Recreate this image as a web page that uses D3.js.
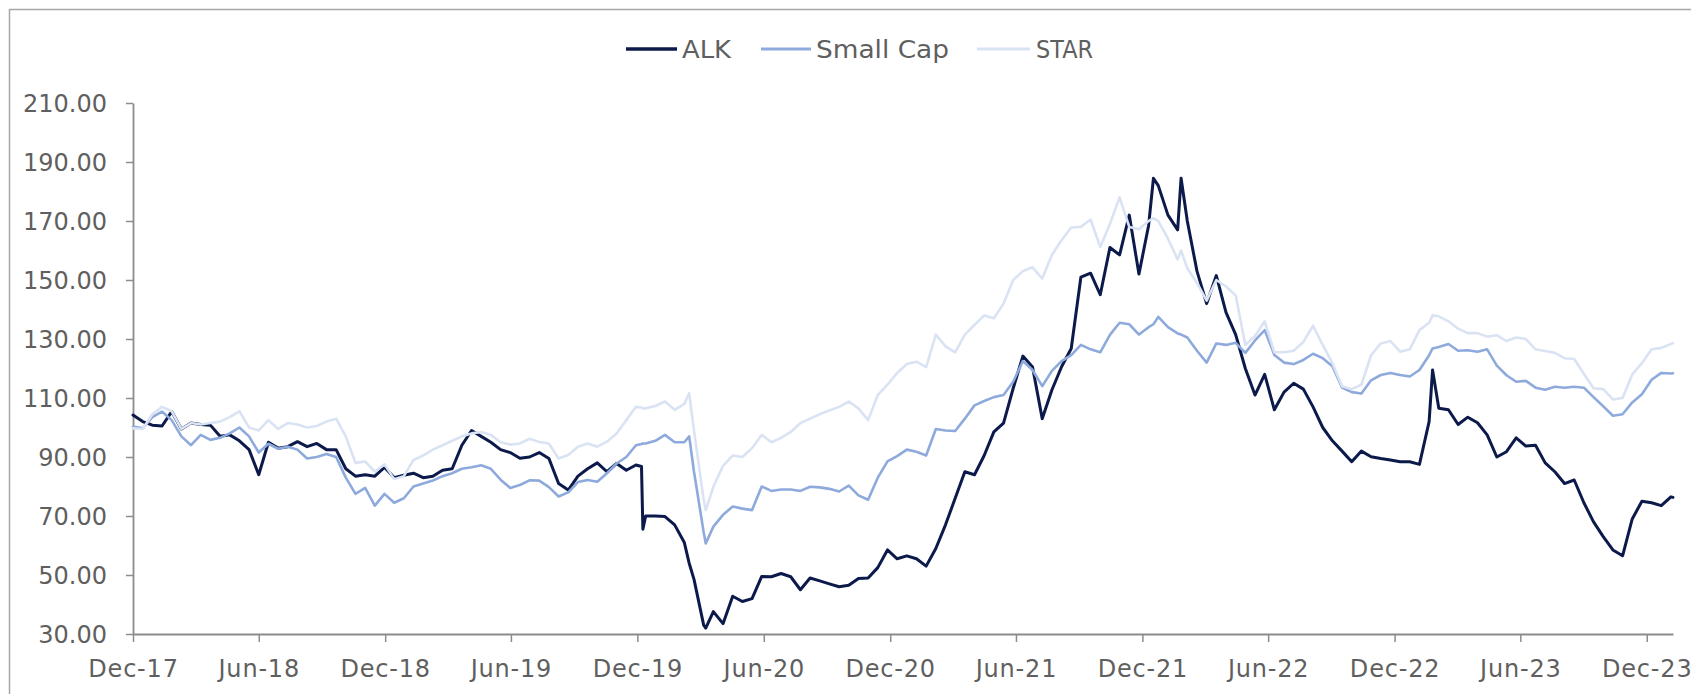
<!DOCTYPE html>
<html>
<head>
<meta charset="utf-8">
<script src="https://cdn.jsdelivr.net/npm/d3@7"></script>
<style>
  html, body { margin: 0; padding: 0; background: #ffffff; }
  svg { display: block; }
  text { font-family: "DejaVu Sans", sans-serif; }
</style>
</head>
<body>
<svg id="chart" width="1691" height="694"></svg>
<script>
// ---------------- data ----------------
const dates = [
  "2017-12-15","2017-12-29","2018-01-12","2018-01-26","2018-02-09","2018-02-23","2018-03-09","2018-03-23",
  "2018-04-06","2018-04-20","2018-05-04","2018-05-18","2018-06-01","2018-06-15","2018-06-29","2018-07-13",
  "2018-07-27","2018-08-10","2018-08-24","2018-09-07","2018-09-21","2018-10-05","2018-10-19","2018-11-02",
  "2018-11-16","2018-11-30","2018-12-14","2018-12-28","2019-01-11","2019-01-25","2019-02-08","2019-02-22",
  "2019-03-08","2019-03-22","2019-04-05","2019-04-19","2019-05-03","2019-05-17","2019-05-31","2019-06-14",
  "2019-06-28","2019-07-12","2019-07-26","2019-08-09","2019-08-23","2019-09-06","2019-09-20","2019-10-04",
  "2019-10-18","2019-11-01","2019-11-15","2019-11-29","2019-12-13","2019-12-21","2019-12-23","2019-12-27",
  "2020-01-10","2020-01-24","2020-02-07","2020-02-21","2020-02-28","2020-03-06","2020-03-20","2020-03-23",
  "2020-04-03","2020-04-17","2020-05-01","2020-05-15","2020-05-29","2020-06-12","2020-06-26","2020-07-10",
  "2020-07-24","2020-08-07","2020-08-21","2020-09-04","2020-09-18","2020-10-02","2020-10-16","2020-10-30",
  "2020-11-13","2020-11-27","2020-12-11","2020-12-25","2021-01-08","2021-01-22","2021-02-05","2021-02-19",
  "2021-03-05","2021-03-19","2021-04-02","2021-04-16","2021-04-30","2021-05-14","2021-05-28","2021-06-11",
  "2021-06-25","2021-07-09","2021-07-23","2021-08-06","2021-08-20","2021-09-03","2021-09-17","2021-10-01",
  "2021-10-15","2021-10-29","2021-11-12","2021-11-26","2021-12-10","2021-12-24","2021-12-31","2022-01-07",
  "2022-01-21","2022-02-04","2022-02-09","2022-02-18","2022-03-04","2022-03-18","2022-04-01","2022-04-15",
  "2022-04-29","2022-05-13","2022-05-27","2022-06-10","2022-06-24","2022-07-08","2022-07-22","2022-08-05",
  "2022-08-19","2022-09-02","2022-09-16","2022-09-30","2022-10-14","2022-10-28","2022-11-11","2022-11-25",
  "2022-12-09","2022-12-23","2023-01-06","2023-01-20","2023-02-03","2023-02-08","2023-02-17","2023-03-03",
  "2023-03-17","2023-03-31","2023-04-14","2023-04-28","2023-05-12","2023-05-26","2023-06-09","2023-06-23",
  "2023-07-07","2023-07-21","2023-08-04","2023-08-18","2023-09-01","2023-09-15","2023-09-29","2023-10-13",
  "2023-10-27","2023-11-10","2023-11-24","2023-12-08","2023-12-22","2024-01-05","2024-01-19","2024-01-22"
];

const alk = [
  104.2,102,100.8,100.5,105.4,99.5,101.5,101,
  100.8,97,97.5,95.5,92.5,84,95,93,
  93.5,95.2,93.5,94.6,92.5,92.5,86,83.5,
  84,83.5,86.5,83,83.8,84.5,83,83.5,
  85.5,86,94,99,97,95,92.5,91.5,
  89.6,90,91.5,89.5,81,78.8,83.5,86,
  88,85,87.8,85.5,87.3,86.8,65.5,70,
  70,69.8,67,61,54,48.5,33,32,
  37.6,33.5,42.8,41,42,49.5,49.4,50.5,
  49.4,45,49,48,47,46,46.5,48.8,
  49,52.5,58.5,55.5,56.5,55.5,53,59,
  67,76,85,84,90.5,98.5,101.5,113.3,
  124.2,120.5,103,112.7,120.6,126.8,151,152.3,
  145,161,158.5,172,152,168.5,184.5,182,
  172,167,184.5,170,153,142,151.5,139,
  131.5,120,111,118,106,112,115,113,
  107,100,95.5,92,88.4,92,90.1,89.5,
  89,88.4,88.4,87.5,102,119.5,106.5,106,
  101,103.5,101.6,97.5,90,91.8,96.5,93.7,
  94,88,85,81,82.2,74.5,68,63,
  58.5,56.5,69,75,74.5,73.5,76.5,76.3
];

const smallCap = [
  100.3,99.7,103.5,105.4,102.5,97,94,97.5,
  95.8,96.5,98,100,97,91.5,94.5,92.8,
  93.5,92.5,89.5,90,91,90,83,77.5,
  79.5,73.5,77.5,74.5,76,80,81,82,
  83.5,84.5,86,86.5,87.2,86,82.3,79.5,
  80.5,82.1,82,79.8,76.6,78,81.5,82.2,
  81.6,84.5,87.8,90,94,94.4,94.6,94.6,
  95.5,97.5,95,95,97,85,64.5,60.7,
  66.4,70.4,73.2,72.5,72,80,78.5,79,
  79,78.5,79.9,79.7,79.2,78.3,80.3,77,
  75.5,83,88.5,90.3,92.5,91.8,90.5,99.5,
  99,98.8,103,107.5,109,110.3,111,115.5,
  122.5,119.5,114,119.2,122.5,124.5,128,126.5,
  125.5,131.4,135.5,135,131.5,134,135,137.5,
  134,131.9,131.5,130.5,126,122,128.5,128,
  128.7,125.3,129.5,133,124.6,122,121.5,122.9,
  125,123.5,120.8,113.5,112,111.5,116,117.8,
  118.5,117.8,117.3,119.5,124.5,126.8,127.3,128.3,
  126,126.2,125.7,126.5,121,117.7,115.5,115.8,
  113.5,112.8,113.8,113.5,113.8,113.5,110.3,107.2,
  104,104.5,108.5,111.3,116.2,118.5,118.3,118.4
];

const star = [
  99.7,99.5,104.5,107,105.5,99.5,101.5,101,
  101.5,102,103.5,105.5,100,99,102.5,99.5,
  101.5,101,100,100.5,102,103,97,88,
  88.5,85,87.5,82.5,83.5,89,90.5,92.5,
  94,95.5,97,98,98.5,97.5,95,94.2,
  94.6,96.2,95.1,94.6,89.5,90.7,93.5,94.6,
  93.5,95.2,98,102.5,107,106.8,106.5,106.5,
  107.3,108.8,106,108,111.6,99,75.5,72,
  79.9,87,90.5,90,93,97.5,95,96.5,
  98.5,101.5,103,104.5,105.8,107,108.8,106.5,
  102.5,111,114.5,118.5,121.5,122.3,120.5,131.5,
  127.5,125.5,131.5,134.8,138,137,142,150,
  153,154.3,150.5,158.5,163.5,167.8,168,170.5,
  161.2,169,178,168,167.2,170,171,170,
  164,157,160,154,149,143,150,147.8,
  144.8,128,131,136,125.5,125.5,126,129,
  134.5,128,121.8,114,113,114.5,124.5,128.5,
  129.3,125.7,126.5,133,135.5,138,137.7,136,
  133.5,132,132,130.8,131.3,129.3,130.5,130,
  126.5,125.9,125.3,123.5,123.2,118.2,113.3,113,
  109.5,110,118,121.8,126.5,127,128.3,128.6
];

const seriesNames = ["ALK", "Small Cap", "STAR"];
const seriesColors = ["#0b1a4a", "#8eaadc", "#dae3f3"];
const seriesWidths = [3, 2.6, 2.6];

const yTickValues = [30, 50, 70, 90, 110, 130, 150, 170, 190, 210];
const xTickDates = ["2017-12-15","2018-06-15","2018-12-15","2019-06-15","2019-12-15","2020-06-15",
                    "2020-12-15","2021-06-15","2021-12-15","2022-06-15","2022-12-15","2023-06-15","2023-12-15"];

// ---------------- chart ----------------
const parse = d3.timeParse("%Y-%m-%d");
const X = dates.map(parse);
const seriesValues = [alk, smallCap, star];

const svg = d3.select("#chart");

// outer frame
svg.append("rect")
  .attr("x", 9.5).attr("y", 9.5)
  .attr("width", 1720).attr("height", 720)
  .attr("fill", "#ffffff")
  .attr("stroke", "#a6a6a6").attr("stroke-width", 1.5);

const x = d3.scaleTime()
  .domain([X[0], X[X.length - 1]])
  .range([133, 1673]);

const y = d3.scaleLinear()
  .domain([30, 210])
  .range([634, 103]);

const axisColor = "#8c8c8c";
const labelColor = "#5f5f5f";

// y axis
const yAxis = svg.append("g")
  .attr("transform", "translate(133,0)")
  .call(d3.axisLeft(y).tickValues(yTickValues).tickFormat(d3.format(".2f"))
        .tickSize(7).tickSizeOuter(0).tickPadding(19));
// x axis
const xAxis = svg.append("g")
  .attr("transform", "translate(0,634)")
  .call(d3.axisBottom(x).tickValues(xTickDates.map(parse)).tickFormat(d3.timeFormat("%b-%y"))
        .tickSize(8).tickSizeOuter(0).tickPadding(22));

[yAxis, xAxis].forEach(g => {
  g.select(".domain").attr("stroke", axisColor).attr("stroke-width", 1.8);
  g.selectAll(".tick line").attr("stroke", axisColor).attr("stroke-width", 1.5);
  g.selectAll(".tick text")
    .attr("fill", labelColor)
    .style("font-family", '"DejaVu Sans", sans-serif')
    .style("font-size", "24px");
});
yAxis.selectAll(".tick text").attr("dy", "0.36em");
xAxis.selectAll(".tick text").attr("dy", "0.36em").attr("y", 34)
  .style("letter-spacing", "0.8px");

// lines (ALK drawn first, STAR last, as in the source)
const line = d3.line()
  .x((d, i) => x(X[i]))
  .y(d => y(d));

seriesValues.forEach((vals, s) => {
  svg.append("path")
    .datum(vals)
    .attr("fill", "none")
    .attr("stroke", seriesColors[s])
    .attr("stroke-width", seriesWidths[s])
    .attr("stroke-linejoin", "round")
    .attr("stroke-linecap", "round")
    .attr("d", line);
});

// legend
const legendItems = [
  { x1: 626, x2: 677, tx: 682, w: 49 },
  { x1: 761, x2: 811, tx: 816, w: 133 },
  { x1: 977, x2: 1030, tx: 1036, w: 57 }
];
const legend = svg.append("g");
legendItems.forEach((it, s) => {
  legend.append("line")
    .attr("x1", it.x1).attr("x2", it.x2)
    .attr("y1", 49).attr("y2", 49)
    .attr("stroke", seriesColors[s])
    .attr("stroke-width", s === 0 ? 3.5 : 3);
  legend.append("text")
    .attr("x", it.tx).attr("y", 49).attr("dy", "0.36em")
    .attr("fill", labelColor)
    .attr("textLength", it.w)
    .attr("lengthAdjust", "spacingAndGlyphs")
    .style("font-size", "24px")
    .text(seriesNames[s]);
});
</script>
</body>
</html>
